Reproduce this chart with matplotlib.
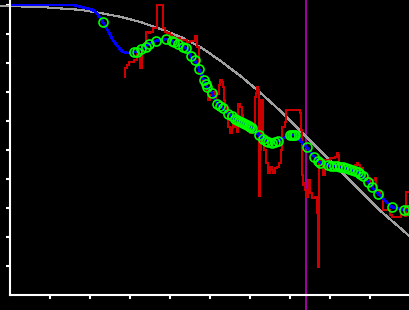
import matplotlib
matplotlib.use("Agg")
import matplotlib.pyplot as plt

# smooth reference curve (grey)
ref_x = [-3, 7.5, 17.5, 22.5, 27.5, 32.5, 37.5, 42.5, 47.5, 52.5, 57.5,
         62.5, 67.5, 72.5, 77.5, 82.5, 87.5, 92.5, 100, 103]
ref_y = [99.7, 99.3, 98.3, 97.2, 95.9, 94.1, 91.7, 89.0, 85.5, 80.7, 75.5,
         69.7, 63.4, 56.6, 49.7, 42.8, 35.9, 29.0, 20.0, 16.9]

# fitted points (green circles)
pts_x = [23.1, 30.9, 31.6, 32.6, 33.9, 34.6, 36.4, 38.9, 40.4, 40.9, 41.9,
         43.1, 43.9, 45.1, 46.1, 47.1, 48.4, 48.9, 49.1, 50.4, 51.6, 52.4,
         53.1, 54.4, 55.4, 56.1, 56.6, 57.1, 57.6, 58.1, 58.6, 59.1, 59.6,
         59.9, 60.4, 62.1, 63.1, 63.9, 64.4, 65.4, 66.1, 66.9, 69.9, 70.4,
         70.8, 71.1, 74.1, 75.9, 76.9, 77.4, 79.4, 80.1, 80.9, 81.6, 82.4,
         83.1, 83.9, 84.6, 85.4, 86.1, 86.9, 87.4, 88.1, 89.4, 90.4, 91.9,
         95.4, 98.4, 99.4]
pts_y = [94.1, 83.8, 83.8, 84.8, 85.5, 86.6, 87.6, 88.3, 87.6, 87.2, 86.6,
         85.5, 85.2, 82.4, 81.0, 77.9, 74.1, 72.8, 71.7, 69.7, 65.9, 65.2,
         64.5, 62.4, 61.7, 60.7, 60.3, 60.0, 59.7, 59.3, 59.0, 58.6, 58.3,
         57.9, 57.6, 55.2, 53.8, 53.1, 52.8, 52.4, 52.8, 53.1, 55.2, 55.2,
         55.2, 55.2, 51.0, 47.6, 46.2, 45.5, 44.8, 44.5, 44.5, 44.5, 44.1,
         44.1, 43.8, 43.4, 43.1, 42.8, 42.4, 41.7, 41.0, 39.0, 37.2, 34.8,
         30.3, 29.3, 29.3]

# extra points of the blue trend that carry no marker
trend_x = [-0.1, 15.6, 16.6, 18.6, 20.6, 21.9, 24.4, 25.6, 26.9, 28.1, 29.4, 102.4]
trend_y = [100.0, 100.0, 99.7, 99.0, 98.3, 96.6, 91.0, 87.9, 85.5, 83.8, 83.4, 29.0]

# raw measurement (red, stepped)
raw_x = [28.6, 28.6, 29.1, 29.6, 30.9, 31.6, 32.1, 32.4, 32.9, 33.6, 33.9,
         34.6, 34.9, 35.6, 36.6, 38.1, 38.6, 39.1, 39.9, 40.4, 41.1, 42.4,
         44.1, 44.9, 46.1, 46.6, 47.1, 47.6, 48.1, 48.6, 49.1, 49.4, 49.9,
         50.6, 51.1, 51.4, 52.1, 52.4, 52.9, 53.1, 53.4, 53.6, 54.1, 54.4,
         54.9, 55.4, 55.6, 56.1, 56.6, 56.9, 57.4, 57.9, 58.1, 58.9, 59.4,
         59.9, 60.4, 60.9, 61.1, 61.4, 61.6, 61.9, 62.1, 62.4, 62.6, 63.1,
         63.4, 63.9, 64.4, 64.9, 65.4, 65.6, 66.1, 66.6, 67.1, 67.6, 67.9,
         68.6, 68.9, 72.4, 72.6, 72.8, 72.9, 73.1, 73.4, 73.6, 73.9, 74.4,
         74.9, 75.4, 76.1, 76.6, 76.9, 77.1, 77.9, 78.1, 78.6, 79.9, 81.1,
         81.6, 81.9, 82.1, 82.4, 82.9, 83.6, 84.1, 86.1, 86.6, 86.9, 87.4,
         88.1, 88.6, 89.9, 90.4, 90.6, 91.1, 91.4, 92.4, 93.1, 94.9, 95.4,
         97.6, 98.6, 98.8, 98.9, 100.4]
raw_y = [75.2, 78.3, 79.3, 80.3, 81.0, 84.5, 82.8, 78.3, 85.5, 86.9, 90.7,
         90.3, 90.7, 92.1, 100.0, 92.1, 90.7, 90.3, 89.7, 89.0, 88.6, 87.9,
         87.2, 87.6, 89.3, 85.5, 76.9, 75.5, 74.1, 72.8, 70.7, 67.2, 69.0,
         70.0, 66.9, 69.3, 72.4, 74.1, 73.4, 71.7, 67.2, 64.8, 63.1, 57.9,
         55.9, 57.6, 59.3, 57.9, 56.2, 65.9, 64.8, 62.1, 60.3, 59.7, 58.3,
         55.9, 57.6, 56.6, 68.3, 69.7, 71.7, 70.7, 34.1, 50.0, 67.2, 54.5,
         50.0, 45.5, 42.1, 44.1, 43.1, 42.1, 43.8, 44.1, 45.5, 50.0, 57.9,
         59.7, 63.8, 62.8, 56.9, 50.0, 41.4, 37.9, 38.6, 36.2, 33.8, 39.7,
         35.2, 33.4, 33.8, 28.3, 9.7, 46.6, 45.9, 41.4, 46.6, 47.2, 47.6,
         49.0, 48.3, 45.5, 44.8, 44.1, 43.8, 43.1, 44.8, 45.5, 44.8, 43.8,
         42.1, 40.3, 37.9, 37.2, 39.7, 40.3, 35.5, 34.5, 29.3, 27.6, 26.9,
         27.6, 27.2, 32.8, 35.5, 35.5]

event_x = 74.0

plt.rcParams['lines.antialiased'] = False

# blue line runs through the marker points and the extra trend points, in x order
blue = sorted(zip(trend_x + pts_x, trend_y + pts_y))
blue_x = [p[0] for p in blue]
blue_y = [p[1] for p in blue]

fig = plt.figure(figsize=(4.1, 3.1), dpi=100, facecolor='black')
ax = fig.add_axes([0, 0, 1, 1], facecolor='black')

ax.axvline(event_x, color='#a000a0', lw=1.1)
ax.plot(ref_x, ref_y, color='#a0a0a0', lw=0.8)
ax.plot(raw_x, raw_y, color='#cc0000', lw=1.1, drawstyle='steps-post')
ax.plot(blue_x, blue_y, color='#0000ff', lw=1.1)
ax.plot(pts_x, pts_y, linestyle='none', marker='o', markersize=6.5,
        markerfacecolor='none', markeredgecolor='#00ff00', markeredgewidth=1.2)

ax.set_xlim(-2.625, 99.875)
ax.set_ylim(-5.17, 101.7)
for side in ['top', 'right']:
    ax.spines[side].set_visible(False)
ax.spines['left'].set_position(('data', 0))
ax.spines['bottom'].set_position(('data', 0))
ax.spines['left'].set_bounds(0, 101.7)
ax.spines['bottom'].set_bounds(0, 99.875)
for side in ['left', 'bottom']:
    ax.spines[side].set_color('white')
    ax.spines[side].set_linewidth(1.5)
ax.set_xticks(range(10, 100, 10))
ax.set_yticks(range(10, 101, 10))
ax.tick_params(colors='white', length=3, width=1.5, direction='out',
               labelleft=False, labelbottom=False)

fig.savefig('out.png', dpi=100, facecolor='black')
